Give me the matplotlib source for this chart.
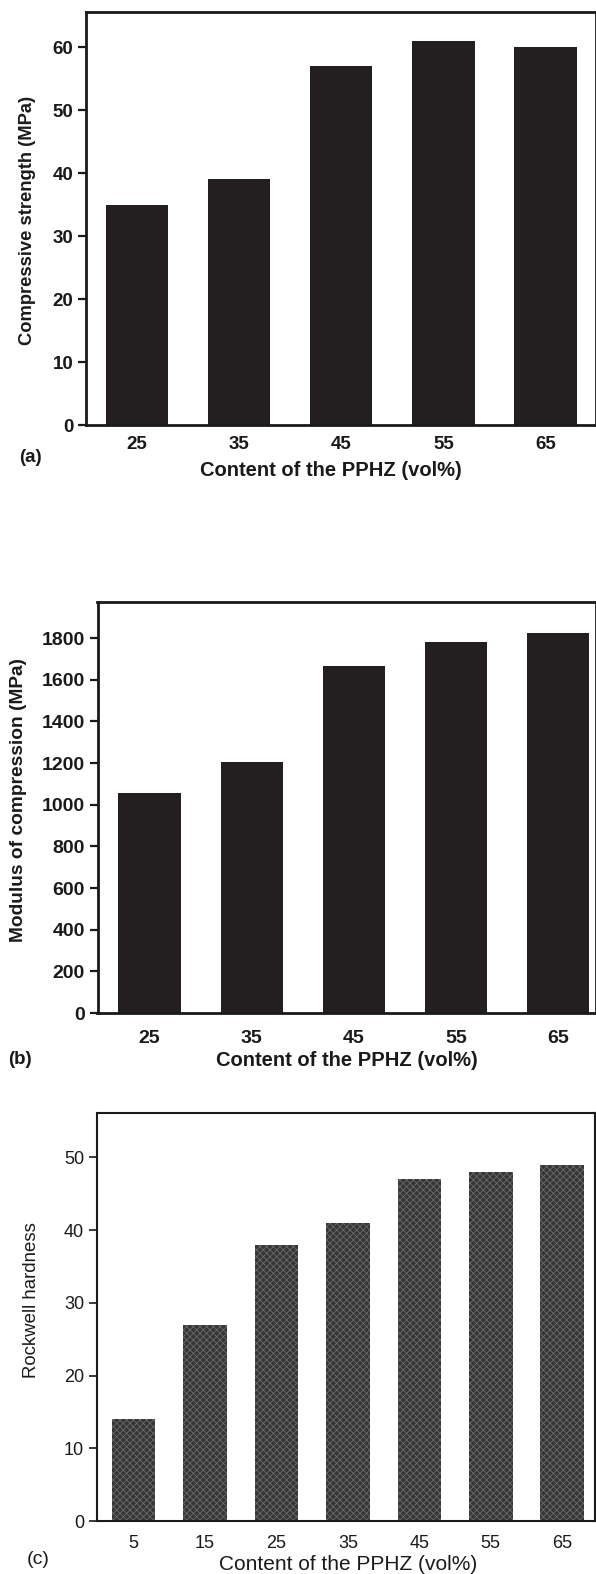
import numpy as np
import matplotlib
matplotlib.use("Agg")
import matplotlib.pyplot as plt

plt.rcParams['font.family'] = ['Liberation Sans', 'DejaVu Sans']
plt.rcParams['hatch.linewidth'] = 0.6

# ---- data ----
content_ab = ["25", "35", "45", "55", "65"]
compressive_strength = [35, 39, 57, 61, 60]
modulus = [1055, 1205, 1665, 1780, 1825]
content_c = ["5", "15", "25", "35", "45", "55", "65"]
rockwell = [14, 27, 38, 41, 47, 48, 49]

W, H = 596, 1574
fig = plt.figure(figsize=(W / 100, H / 100), dpi=100)


def ax_px(left, top, right, bottom):
    return fig.add_axes([left / W, 1 - bottom / H, (right - left) / W, (bottom - top) / H])


def ftext(x, y, s, **kw):
    fig.text(x / W, 1 - y / H, s, **kw)


def style(ax, lw, fs, weight):
    for sp in ax.spines.values():
        sp.set_linewidth(lw)
        sp.set_color('#1a1a1a')
    ax.tick_params(axis='y', direction='out', length=6, width=lw * 0.8,
                   labelsize=fs, pad=3, colors='#1a1a1a')
    ax.tick_params(axis='x', length=0, labelsize=fs, pad=6, colors='#1a1a1a')
    for lab in ax.get_xticklabels() + ax.get_yticklabels():
        lab.set_fontweight(weight)


# ---- (a) ----
ax1 = ax_px(86, 12, 595.5, 425)
x1 = np.arange(len(content_ab))
ax1.bar(x1, compressive_strength, width=0.61, color='#231f20')
ax1.set_xlim(-0.5, 4.49)
ax1.set_ylim(0, 65.6)
ax1.set_yticks([0, 10, 20, 30, 40, 50, 60])
ax1.set_xticks(x1)
ax1.set_xticklabels(content_ab)
style(ax1, 2.0, 13.5, 'bold')
ax1.tick_params(axis='x', pad=8)
ftext(28, 220, "Compressive strength (MPa)", rotation=90, ha='center', va='center',
      fontsize=13.2, fontweight='bold', color='#1a1a1a')
ftext(331, 470, "Content of the PPHZ (vol%)", ha='center', va='center',
      fontsize=14.5, fontweight='bold', color='#1a1a1a')
ftext(30, 457, "(a)", ha='center', va='center', fontsize=13.5, fontweight='bold', color='#1a1a1a')

# ---- (b) ----
ax2 = ax_px(97.5, 602, 596, 1013)
x2 = np.arange(len(content_ab))
ax2.bar(x2, modulus, width=0.61, color='#231f20')
ax2.set_xlim(-0.51, 4.37)
ax2.set_ylim(0, 1973)
ax2.set_yticks(np.arange(0, 1801, 200))
ax2.set_xticks(x2)
ax2.set_xticklabels(content_ab)
style(ax2, 2.0, 14, 'bold')
ax2.tick_params(axis='x', pad=12)
ftext(19, 800, "Modulus of compression (MPa)", rotation=90, ha='center', va='center',
      fontsize=13.8, fontweight='bold', color='#1a1a1a')
ftext(347, 1060, "Content of the PPHZ (vol%)", ha='center', va='center',
      fontsize=14.5, fontweight='bold', color='#1a1a1a')
ftext(20, 1060, "(b)", ha='center', va='center', fontsize=13.5, fontweight='bold', color='#1a1a1a')

# ---- (c) ----
ax3 = ax_px(96.5, 1113, 595, 1521)
x3 = np.arange(len(content_c))
ax3.bar(x3, rockwell, width=0.61, facecolor='#363636', edgecolor='#6a6a6a',
        hatch='xxxxx', linewidth=0)
ax3.set_xlim(-0.52, 6.46)
ax3.set_ylim(0, 56.1)
ax3.set_yticks([0, 10, 20, 30, 40, 50])
ax3.set_xticks(x3)
ax3.set_xticklabels(content_c)
style(ax3, 1.5, 13, 'normal')
ax3.tick_params(axis='x', pad=10)
ftext(32, 1300, "Rockwell hardness", rotation=90, ha='center', va='center',
      fontsize=13.4, color='#1a1a1a')
ftext(348, 1565, "Content of the PPHZ (vol%)", ha='center', va='center',
      fontsize=15, color='#1a1a1a')
ftext(38, 1560, "(c)", ha='center', va='center', fontsize=14, color='#1a1a1a')

fig.savefig("out.png", dpi=100)
